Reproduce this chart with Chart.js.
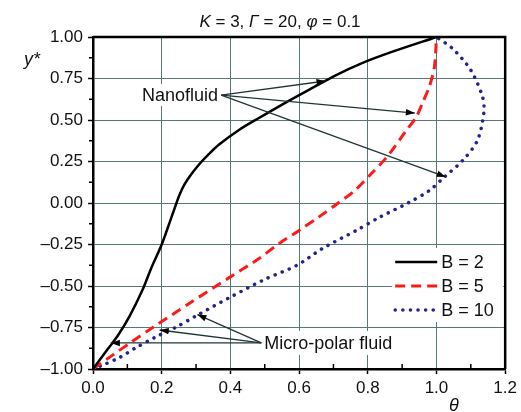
<!DOCTYPE html>
<html lang="en">
<head>
  <meta charset="UTF-8">
  <title>K = 3, Gamma = 20, phi = 0.1</title>
  <script src="https://cdn.jsdelivr.net/npm/chart.js"></script>
  <style>
    html, body { margin: 0; padding: 0; background: #fff; }
    #wrap { width: 521px; height: 412px; }
  </style>
</head>
<body>
  <div id="wrap"><canvas id="chart" width="521" height="412"></canvas></div>
  <script>
    // curves: [theta, y*]
    const b2 = [[0, -1], [0.043, -0.88], [0.072, -0.80], [0.107, -0.68], [0.145, -0.52], [0.168, -0.40],
      [0.2, -0.25], [0.226, -0.10], [0.243, 0], [0.252, 0.05], [0.266, 0.11], [0.285, 0.17], [0.31, 0.235],
      [0.335, 0.29], [0.367, 0.352], [0.425, 0.44], [0.483, 0.512], [0.561, 0.605], [0.636, 0.69],
      [0.705, 0.768], [0.78, 0.84], [0.87, 0.91], [1.0, 1.0]];
    const b5 = [[0, -1], [0.058, -0.915], [0.11, -0.84], [0.174, -0.75], [0.28, -0.605], [0.4, -0.445],
      [0.483, -0.335], [0.541, -0.245], [0.6, -0.165], [0.657, -0.085], [0.714, 0], [0.762, 0.075],
      [0.81, 0.176], [0.859, 0.286], [0.912, 0.437], [0.941, 0.517], [0.96, 0.607], [0.979, 0.70],
      [0.994, 0.82], [1.0, 1.0]];
    const b10 = [[0, -1], [0.03, -0.975], [0.078, -0.93], [0.124, -0.873], [0.18, -0.81], [0.24, -0.75],
      [0.3, -0.68], [0.4, -0.567], [0.5, -0.46], [0.593, -0.376], [0.668, -0.274], [0.767, -0.165],
      [0.835, -0.085], [0.917, 0], [0.979, 0.075], [1.022, 0.155], [1.076, 0.256], [1.119, 0.376],
      [1.138, 0.547], [1.134, 0.64], [1.1, 0.8], [1.047, 0.93], [1.0, 1.0]];
    const seriesLabels = ['B = 2', 'B = 5', 'B = 10'];

    const xTicks = [0, 0.2, 0.4, 0.6, 0.8, 1.0, 1.2];
    const yTicks = [-1, -0.75, -0.5, -0.25, 0, 0.25, 0.5, 0.75, 1];

    // annotation arrows: label anchor and arrow tips in data coords
    const nanoFrom = [0.373, 0.65];
    const nanoTips = [[0.677, 0.735], [0.937, 0.542], [1.027, 0.157]];
    const microFrom = [0.49, -0.843];
    const microTips = [[0.052, -0.843], [0.194, -0.765], [0.304, -0.672]];

    const toPts = arr => arr.map(p => ({ x: p[0], y: p[1] }));
    const FONT = '"Liberation Sans", Arial, sans-serif';

    function arrow(ctx, x0, y0, x1, y1) {
      ctx.strokeStyle = '#203636';
      ctx.lineWidth = 1.3;
      ctx.beginPath();
      ctx.moveTo(x0, y0);
      ctx.lineTo(x1, y1);
      ctx.stroke();
      const a = Math.atan2(y1 - y0, x1 - x0);
      const L = 9, W = 3.2;
      ctx.fillStyle = '#000';
      ctx.beginPath();
      ctx.moveTo(x1, y1);
      ctx.lineTo(x1 - L * Math.cos(a) + W * Math.sin(a), y1 - L * Math.sin(a) - W * Math.cos(a));
      ctx.lineTo(x1 - L * Math.cos(a) - W * Math.sin(a), y1 - L * Math.sin(a) + W * Math.cos(a));
      ctx.closePath();
      ctx.fill();
    }

    const extras = {
      id: 'extras',
      afterDatasetsDraw(chart) {
        const ctx = chart.ctx;
        const xs = chart.scales.x, ys = chart.scales.y;
        const area = chart.chartArea;
        const px = v => xs.getPixelForValue(v), py = v => ys.getPixelForValue(v);
        ctx.save();

        // frame top & right
        ctx.strokeStyle = '#000';
        ctx.lineWidth = 2.5;
        ctx.beginPath();
        ctx.moveTo(area.left, area.top);
        ctx.lineTo(area.right, area.top);
        ctx.lineTo(area.right, area.bottom);
        ctx.stroke();

        // minor ticks
        ctx.lineWidth = 1.5;
        ctx.beginPath();
        for (let i = 0; i < xTicks.length - 1; i++) {
          const x = px((xTicks[i] + xTicks[i + 1]) / 2);
          ctx.moveTo(x, area.bottom);
          ctx.lineTo(x, area.bottom - 5);
        }
        for (let i = 0; i < yTicks.length - 1; i++) {
          const y = py((yTicks[i] + yTicks[i + 1]) / 2);
          ctx.moveTo(area.left, y);
          ctx.lineTo(area.left - 4, y);
        }
        ctx.stroke();

        // annotation labels
        ctx.font = '18px ' + FONT;
        ctx.textBaseline = 'middle';
        const nx = px(nanoFrom[0]), ny = py(nanoFrom[1]);
        nanoTips.forEach(t => arrow(ctx, nx, ny, px(t[0]), py(t[1])));
        const nw = ctx.measureText('Nanofluid').width;
        ctx.fillStyle = '#fff';
        ctx.fillRect(nx - nw - 5, ny - 11, nw + 4, 22);
        ctx.fillStyle = '#111';
        ctx.textAlign = 'right';
        ctx.fillText('Nanofluid', nx - 3, ny + 1);

        const mx = px(microFrom[0]), my = py(microFrom[1]);
        microTips.forEach(t => arrow(ctx, mx, my, px(t[0]), py(t[1])));
        const mw = ctx.measureText('Micro-polar fluid').width;
        ctx.fillStyle = '#fff';
        ctx.fillRect(mx + 2, my - 12, mw + 4, 24);
        ctx.fillStyle = '#111';
        ctx.textAlign = 'left';
        ctx.fillText('Micro-polar fluid', mx + 3, my + 1);

        // legend
        const lx = area.right - 113, ly = area.bottom - 121;
        ctx.fillStyle = '#fff';
        ctx.fillRect(lx, ly, 111, 74);
        chart.data.datasets.forEach((ds, i) => {
          const y = ly + 14 + i * 24;
          ctx.strokeStyle = ds.borderColor;
          ctx.lineWidth = ds.borderWidth;
          ctx.lineCap = ds.borderCapStyle || 'butt';
          ctx.setLineDash(ds.borderDash || []);
          ctx.beginPath();
          ctx.moveTo(lx + 3, y);
          ctx.lineTo(lx + 45, y);
          ctx.stroke();
          ctx.setLineDash([]);
          ctx.lineCap = 'butt';
          ctx.fillStyle = '#111';
          ctx.textAlign = 'left';
          ctx.fillText(seriesLabels[i], lx + 49, y + 1);
        });

        // title
        const parts = [['K', true], [' = 3, ', false], ['\u0393', true], [' = 20, ', false], ['\u03c6', true], [' = 0.1', false]];
        const fontOf = it => (it ? 'italic ' : '') + '17px ' + FONT;
        let tw = 0;
        parts.forEach(p => { ctx.font = fontOf(p[1]); tw += ctx.measureText(p[0]).width; });
        let tx = 280 - tw / 2;
        ctx.fillStyle = '#111';
        ctx.textAlign = 'left';
        parts.forEach(p => {
          ctx.font = fontOf(p[1]);
          ctx.fillText(p[0], tx, 22);
          tx += ctx.measureText(p[0]).width;
        });

        // axis titles
        ctx.font = 'italic 18px ' + FONT;
        ctx.fillText('y*', 24, 60);
        ctx.fillText('\u03b8', 449, 406);
        ctx.restore();
      }
    };

    const gridColor = '#587878';

    new Chart(document.getElementById('chart'), {
      type: 'scatter',
      data: {
        datasets: [
          { label: seriesLabels[0], data: toPts(b2), showLine: true, borderColor: '#000', borderWidth: 2.5,
            pointRadius: 0, tension: 0.3 },
          { label: seriesLabels[1], data: toPts(b5), showLine: true, borderColor: '#ff1a1a', borderWidth: 3,
            borderDash: [10, 6], pointRadius: 0, tension: 0.3 },
          { label: seriesLabels[2], data: toPts(b10), showLine: true, borderColor: '#23238c', borderWidth: 3.5,
            borderDash: [0.1, 7.5], borderCapStyle: 'round', pointRadius: 0, tension: 0.3 }
        ]
      },
      options: {
        responsive: false,
        animation: false,
        layout: { padding: { top: 37, right: 13, left: 0, bottom: 0 } },
        plugins: { legend: { display: false }, tooltip: { enabled: false }, title: { display: false } },
        scales: {
          x: {
            type: 'linear', min: 0, max: 1.2,
            afterFit: s => { s.height = 43; },
            afterBuildTicks: s => { s.ticks = xTicks.map(v => ({ value: v })); },
            ticks: { callback: v => v.toFixed(1), font: { size: 17, family: FONT }, color: '#111', padding: 4, maxRotation: 0 },
            grid: { color: gridColor, lineWidth: 1, drawTicks: true, tickLength: 5, tickColor: '#000', tickWidth: 1.5 },
            border: { color: '#000', width: 2.5 }
          },
          y: {
            type: 'linear', min: -1, max: 1,
            afterFit: s => { s.width = 93; },
            afterBuildTicks: s => { s.ticks = yTicks.map(v => ({ value: v })); },
            ticks: { callback: v => v.toFixed(2).replace('-', '\u2013'), font: { size: 17, family: FONT }, color: '#111', padding: 5 },
            grid: { color: gridColor, lineWidth: 1, drawTicks: true, tickLength: 5, tickColor: '#000', tickWidth: 1.5 },
            border: { color: '#000', width: 2.5 }
          }
        }
      },
      plugins: [extras]
    });
  </script>
</body>
</html>
